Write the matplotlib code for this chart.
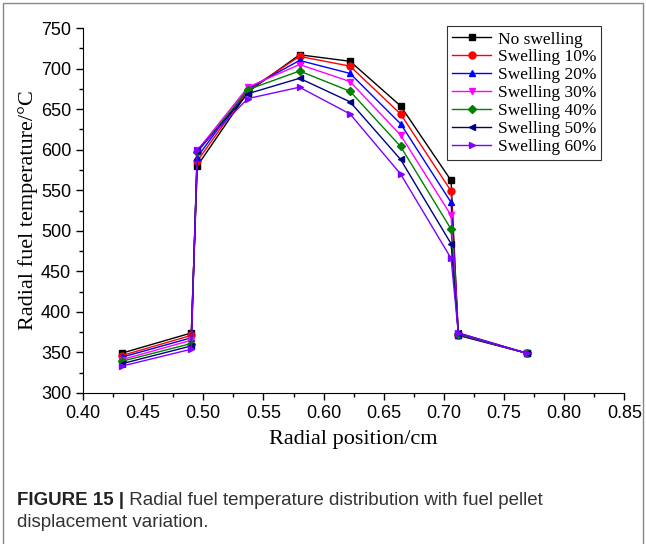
import matplotlib
matplotlib.use('Agg')
import matplotlib.pyplot as plt
from matplotlib.ticker import MultipleLocator
from matplotlib.patches import Rectangle

# radial positions (cm)
radius = [0.432, 0.490, 0.495, 0.537, 0.580, 0.622, 0.664, 0.706, 0.712, 0.769]

no_swelling = [349, 374, 580, 671, 717, 709, 654, 562, 371, 349]
swelling_10 = [346, 371, 586, 673, 715, 703, 644, 549, 372, 349]
swelling_20 = [344, 368, 591, 675, 710, 694, 632, 535, 372, 349]
swelling_30 = [341, 365, 599, 677, 705, 684, 618, 519, 373, 349]
swelling_40 = [339, 361, 597, 674, 697, 672, 604, 502, 373, 349]
swelling_50 = [336, 358, 598, 669, 688, 659, 588, 484, 374, 349]
swelling_60 = [333, 354, 600, 663, 677, 644, 570, 466, 374, 349]

labels = ["No swelling", "Swelling 10%", "Swelling 20%", "Swelling 30%",
          "Swelling 40%", "Swelling 50%", "Swelling 60%"]
series = [no_swelling, swelling_10, swelling_20, swelling_30,
          swelling_40, swelling_50, swelling_60]
colors = ['black', 'red', 'blue', 'magenta', 'green', 'navy', '#8000ff']
markers = ['s', 'o', '^', 'v', 'D', '<', '>']

fig = plt.figure(figsize=(6.46, 5.44), dpi=100)
ax = fig.add_axes([0.1285, 0.2776, 0.8379, 0.6709])

for vals, lab, c, m in zip(series, labels, colors, markers):
    ax.plot(radius, vals, color=c, marker=m, markersize=5 if m != 'D' else 4,
            linewidth=1, label=lab)

ax.set_xlim(0.40, 0.85)
ax.set_ylim(300, 750)
ax.xaxis.set_major_locator(MultipleLocator(0.05))
ax.xaxis.set_minor_locator(MultipleLocator(0.025))
ax.yaxis.set_major_locator(MultipleLocator(50))
ax.yaxis.set_minor_locator(MultipleLocator(25))
ax.xaxis.set_major_formatter(plt.FuncFormatter(lambda v, p: f"{v:.2f}"))
ax.spines['top'].set_visible(False)
ax.spines['right'].set_visible(False)
ax.tick_params(which='major', direction='out', length=5, width=1,
               labelsize=13)
ax.tick_params(which='minor', direction='out', length=3, width=1)
for t in ax.get_xticklabels() + ax.get_yticklabels():
    t.set_fontfamily('Liberation Sans')

ax.set_xlabel("Radial position/cm", fontfamily='Liberation Serif',
              fontsize=16, labelpad=6)
ax.set_ylabel("Radial fuel temperature/°C", fontfamily='Liberation Serif',
              fontsize=16, labelpad=2)

leg = ax.legend(loc='upper right', bbox_to_anchor=(0.9575, 1.005),
                prop={'family': 'Liberation Serif', 'size': 12.5},
                frameon=True, fancybox=False, edgecolor='black',
                handlelength=2.2, labelspacing=0.1, borderpad=0.3,
                handletextpad=0.4, borderaxespad=0)
leg.get_frame().set_linewidth(0.8)

# outer frame of the figure panel
fig.patches.append(Rectangle((0.004, -0.01), 0.992, 1.005,
                             transform=fig.transFigure, fill=False,
                             edgecolor='#888888', linewidth=1))

# caption: bold label followed by normal text
head = fig.text(0.027, 0.072, "FIGURE 15 |", fontfamily='Liberation Sans',
                fontweight='bold', fontsize=13.5, color='#222222')
ax.annotate(" Radial fuel temperature distribution with fuel pellet",
            xy=(1, 0), xycoords=head, va='bottom', ha='left',
            fontfamily='Liberation Sans', fontsize=13.5, color='#333333',
            annotation_clip=False)
fig.text(0.027, 0.031, "displacement variation.",
         fontfamily='Liberation Sans', fontsize=13.5, color='#333333')

fig.savefig("out.png", dpi=100)
